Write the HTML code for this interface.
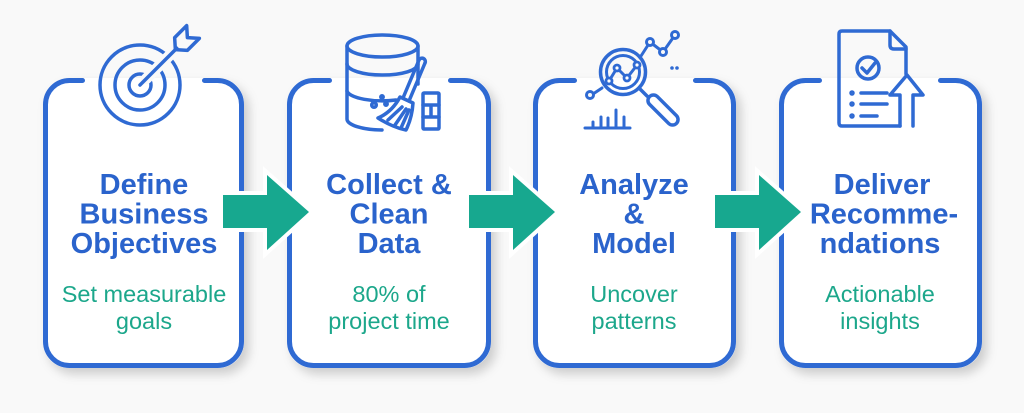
<!DOCTYPE html>
<html><head><meta charset="utf-8">
<style>
html,body{margin:0;padding:0;background:#f9f9f9;}
svg{display:block;}
.t{font-family:"Liberation Sans",Arial,sans-serif;font-weight:bold;font-size:29px;fill:#2a63cc;text-anchor:middle;}
.s{font-family:"Liberation Sans",Arial,sans-serif;font-size:23.5px;fill:#1ca78b;text-anchor:middle;}
.ic{fill:none;stroke:#2f6ad3;stroke-width:3.5;stroke-linecap:round;stroke-linejoin:round;}
.bx{fill:none;stroke:#2f6ad3;stroke-width:5;stroke-linecap:round;}
</style></head>
<body>
<svg width="1024" height="413" viewBox="0 0 1024 413" xmlns="http://www.w3.org/2000/svg">
<defs>
<filter id="sh" x="-20%" y="-20%" width="140%" height="140%">
<feDropShadow dx="5" dy="6" stdDeviation="5" flood-color="#000" flood-opacity="0.18"/>
</filter>
</defs>
<rect width="1024" height="413" fill="#f9f9f9"/>

<!-- box fills -->
<rect x="43" y="78" width="201" height="290" rx="26" fill="#fff" filter="url(#sh)"/>
<rect x="287" y="78" width="204" height="290" rx="26" fill="#fff" filter="url(#sh)"/>
<rect x="533" y="78" width="203" height="290" rx="26" fill="#fff" filter="url(#sh)"/>
<rect x="779" y="78" width="203" height="290" rx="26" fill="#fff" filter="url(#sh)"/>

<!-- box borders with top gaps -->
<path class="bx" d="M82.5 80.5 H69.5 A24 24 0 0 0 45.5 104.5 V341.5 A24 24 0 0 0 69.5 365.5 H217.5 A24 24 0 0 0 241.5 341.5 V104.5 A24 24 0 0 0 217.5 80.5 H204.5"/>
<path class="bx" d="M329.5 80.5 H313.5 A24 24 0 0 0 289.5 104.5 V341.5 A24 24 0 0 0 313.5 365.5 H464.5 A24 24 0 0 0 488.5 341.5 V104.5 A24 24 0 0 0 464.5 80.5 H450.5"/>
<path class="bx" d="M574.5 80.5 H559.5 A24 24 0 0 0 535.5 104.5 V341.5 A24 24 0 0 0 559.5 365.5 H709.5 A24 24 0 0 0 733.5 341.5 V104.5 A24 24 0 0 0 709.5 80.5 H695.5"/>
<path class="bx" d="M819.5 80.5 H805.5 A24 24 0 0 0 781.5 104.5 V341.5 A24 24 0 0 0 805.5 365.5 H955.5 A24 24 0 0 0 979.5 341.5 V104.5 A24 24 0 0 0 955.5 80.5 H940.5"/>

<!-- arrows -->
<g fill="#17a88f" stroke="#fff" stroke-width="8" stroke-linejoin="miter" paint-order="stroke">
<polygon points="223,195 267,195 267,175 309,212 267,250 267,228 223,228"/>
<polygon points="469,195 513,195 513,175 555,212 513,250 513,228 469,228"/>
<polygon points="715,195 759,195 759,175 801,212 759,250 759,228 715,228"/>
</g>

<!-- Icon 1: target -->
<g class="ic" stroke-width="4">
<circle cx="140" cy="85" r="40"/>
<circle cx="140" cy="85" r="25"/>
<circle cx="140" cy="85" r="11"/>
<g transform="translate(140,85) rotate(-45)">
<line x1="9" y1="0" x2="50" y2="0" stroke="#f9f9f9" stroke-width="11"/>
<line x1="0" y1="0" x2="52" y2="0"/>
<polygon points="50,0 58,-9 75,-9 67,0 75,9 58,9"/>
</g>
</g>

<!-- Icon 2: database + broom + bricks -->
<g class="ic">
<ellipse cx="382.5" cy="46" rx="35.5" ry="11"/>
<path d="M347 46 V119 A35.5 11 0 0 0 382 130"/>
<path d="M347 64 A35.5 11 0 0 0 418 64"/>
<path d="M347 91 A35.5 11 0 0 0 396 100"/>
<path d="M418 46 V84"/>
<path d="M419 60 L403 98 M425 63 L409 101"/>
<path d="M419 60 A3.3 3.3 0 0 1 425 63"/>
<path d="M400 97 L413 103 Q412 118 406 130 Q392 127 378 118 Q392 112 400 97 Z"/>
<path d="M388 120 L402 107 M395 125 L406 109 M401 128 L409 110"/>
<circle cx="374" cy="105" r="2.3"/>
<circle cx="382" cy="97" r="1.2" fill="#2f6ad3"/>
<circle cx="386" cy="104" r="1.2" fill="#2f6ad3"/>
<rect x="423" y="93" width="16" height="36" rx="1"/>
<path d="M423 105 H439 M423 117 H439 M431 105 V117"/>
</g>

<!-- Icon 3: magnifier + charts -->
<g class="ic">
<circle cx="623" cy="72" r="22.5"/>
<circle cx="623" cy="72" r="16.5" stroke-width="3"/>
<polyline points="609,81 617,68 627,78 637,65" stroke-width="3"/>
<circle cx="609" cy="81" r="3" fill="#fff" stroke-width="2.8"/>
<circle cx="617" cy="68" r="3" fill="#fff" stroke-width="2.8"/>
<circle cx="627" cy="78" r="3" fill="#fff" stroke-width="2.8"/>
<circle cx="637" cy="65" r="3" fill="#fff" stroke-width="2.8"/>
<path d="M639 88 L647 96"/>
<g transform="translate(663,110) rotate(45)">
<rect x="-19" y="-5.5" width="38" height="11" rx="5.5"/>
</g>
<path d="M641 56 L650 42 L663 52 L675 35" stroke-width="3"/>
<circle cx="650" cy="42" r="3.5" fill="#f9f9f9" stroke-width="3"/>
<circle cx="663" cy="52" r="3.5" fill="#f9f9f9" stroke-width="3"/>
<circle cx="675" cy="35" r="3.5" fill="#f9f9f9" stroke-width="3"/>
<path d="M593 94 L602 88" stroke-width="3"/>
<circle cx="590" cy="95" r="3.5" fill="#f9f9f9" stroke-width="3"/>
<circle cx="672" cy="68" r="0.8" fill="#2f6ad3" stroke-width="2"/>
<circle cx="677" cy="68" r="0.8" fill="#2f6ad3" stroke-width="2"/>
<path d="M585 128 H630 M593 128 V122 M601 128 V117 M608 128 V118 M616 128 V110 M624 128 V117" stroke-width="3"/>
</g>

<!-- Icon 4: document with check + arrow -->
<g class="ic">
<path d="M900 126 H842 Q839 126 839 123 V34 Q839 31 842 31 H890 L906 47 V74"/>
<path d="M890 31 V45 Q890 49 894 49 H906"/>
<circle cx="868" cy="68" r="11"/>
<polyline points="862,68 867,73 875,63"/>
<circle cx="852" cy="93" r="1" fill="#2f6ad3"/>
<circle cx="852" cy="104" r="1" fill="#2f6ad3"/>
<circle cx="852" cy="116" r="1" fill="#2f6ad3"/>
<path d="M861 93 H887 M861 104 H887 M861 116 H877"/>
<path d="M900 126 V95 H890 L907 75 L923 95 H913 V126"/>
</g>

<!-- Texts -->
<text class="t" x="144" y="194">Define</text>
<text class="t" x="144" y="223.5">Business</text>
<text class="t" x="144" y="253">Objectives</text>
<text class="s" x="144" y="302">Set measurable</text>
<text class="s" x="144" y="329">goals</text>

<text class="t" x="389" y="194">Collect &amp;</text>
<text class="t" x="389" y="223.5">Clean</text>
<text class="t" x="389" y="253">Data</text>
<text class="s" x="389" y="302">80% of</text>
<text class="s" x="389" y="329">project time</text>

<text class="t" x="634" y="194">Analyze</text>
<text class="t" x="634" y="223.5">&amp;</text>
<text class="t" x="634" y="253">Model</text>
<text class="s" x="634" y="302">Uncover</text>
<text class="s" x="634" y="329">patterns</text>

<text class="t" x="882" y="194">Deliver</text>
<text class="t" x="884" y="223.5">Recomme-</text>
<text class="t" x="880" y="253">ndations</text>
<text class="s" x="880" y="302">Actionable</text>
<text class="s" x="880" y="329">insights</text>
</svg>
</body></html>
